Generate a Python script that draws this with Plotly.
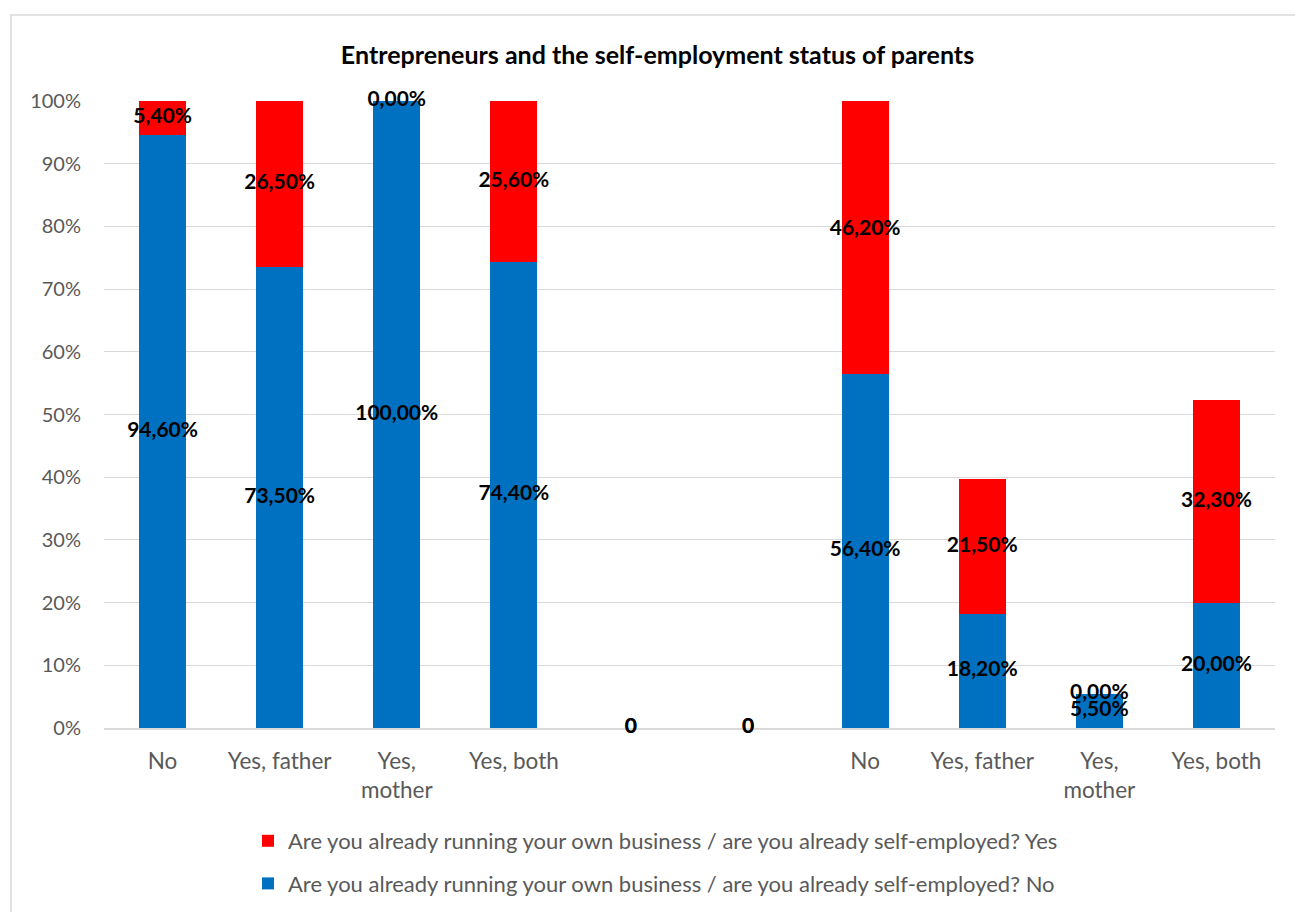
import plotly.graph_objects as go

# Parent self-employment categories (two panels separated by two empty slots)
categories = ["No", "Yes, father", "Yes,<br>mother", "Yes, both", "", "",
              "No", "Yes, father", "Yes,<br>mother", "Yes, both"]
is_gap = [False, False, False, False, True, True, False, False, False, False]

# Share of respondents (%), by answer to "already self-employed?"
self_employed_no = [94.6, 73.5, 100.0, 74.4, 0, 0, 56.4, 18.2, 5.5, 20.0]
self_employed_yes = [5.4, 26.5, 0.0, 25.6, 0, 0, 46.2, 21.5, 0.0, 32.3]

y_ticks = [0, 10, 20, 30, 40, 50, 60, 70, 80, 90, 100]

FONT = "Lato"
BLUE = "#0070C0"
RED = "#FF0000"
GREY_TXT = "#595959"
GRID = "#D9D9D9"

x = list(range(len(categories)))


def fmt(v, gap):
    if gap:
        return "0"
    return f"{v:.2f}".replace(".", ",") + "%"


fig = go.Figure()

fig.add_trace(go.Bar(
    x=x, y=self_employed_no, marker_color=BLUE, marker_line_width=0,
    name="Are you already running your own business / are you already self-employed? No",
    legendgroup="no", legendrank=2,
))
fig.add_trace(go.Bar(
    x=x, y=self_employed_yes, marker_color=RED, marker_line_width=0,
    name="Are you already running your own business / are you already self-employed? Yes",
    legendgroup="yes", legendrank=1,
))

# Data labels centred on each stacked segment
no_mid = [v / 2 for v in self_employed_no]
yes_mid = [n + v / 2 for n, v in zip(self_employed_no, self_employed_yes)]
label_font = dict(family=FONT, size=21, color="black", weight="bold")
fig.add_trace(go.Scatter(
    x=x, y=no_mid, mode="text",
    text=[fmt(v, g) for v, g in zip(self_employed_no, is_gap)],
    textfont=label_font, textposition="middle center",
    showlegend=False, hoverinfo="skip", cliponaxis=False,
))
fig.add_trace(go.Scatter(
    x=x, y=yes_mid, mode="text",
    text=[fmt(v, g) for v, g in zip(self_employed_yes, is_gap)],
    textfont=label_font, textposition="middle center",
    showlegend=False, hoverinfo="skip", cliponaxis=False,
))

fig.update_layout(
    width=1295, height=912,
    margin=dict(l=104, r=20, t=101, b=184, autoexpand=False),
    paper_bgcolor="white", plot_bgcolor="white",
    barmode="stack", bargap=0.6,
    font=dict(family=FONT, size=22, color=GREY_TXT),
    title=dict(
        text="Entrepreneurs and the self-employment status of parents",
        font=dict(family=FONT, size=25, color="black", weight="bold"),
        x=657.5 / 1295, xanchor="center", xref="container",
        y=1 - 55 / 912, yref="container", yanchor="middle",
    ),
    xaxis=dict(
        tickmode="array", tickvals=x, ticktext=categories,
        range=[-0.5, len(categories) - 0.5],
        showgrid=False, zeroline=False, automargin=False,
        showline=True, linecolor=GRID, linewidth=1.5,
        ticks="", ticklabelstandoff=12, layer="below traces",
        tickfont=dict(family=FONT, size=22.5, color=GREY_TXT),
    ),
    yaxis=dict(
        range=[0, 100], tickmode="array", tickvals=y_ticks,
        ticktext=[f"{t}%" for t in y_ticks],
        showgrid=True, gridcolor=GRID, gridwidth=1,
        zeroline=False, showline=False, ticks="", automargin=False,
        ticklabelstandoff=22, layer="below traces",
        tickfont=dict(family=FONT, size=20, color=GREY_TXT),
    ),
    legend=dict(
        orientation="v", traceorder="grouped",
        x=(262 - 104 - 14) / 1171, xanchor="left",
        y=-(820 - 728) / 627, yanchor="top",
        font=dict(family=FONT, size=22, color=GREY_TXT),
        tracegroupgap=11, itemwidth=30,
        bgcolor="rgba(0,0,0,0)",
    ),
    showlegend=True,
    shapes=[dict(
        type="rect", xref="paper", yref="paper",
        x0=(11 - 104) / 1171, x1=1.2,
        y0=-0.6, y1=1 + (101 - 15) / 627,
        line=dict(color=GRID, width=1.5), fillcolor="rgba(0,0,0,0)",
        layer="below",
    )],
)

fig.write_html("out.html")
